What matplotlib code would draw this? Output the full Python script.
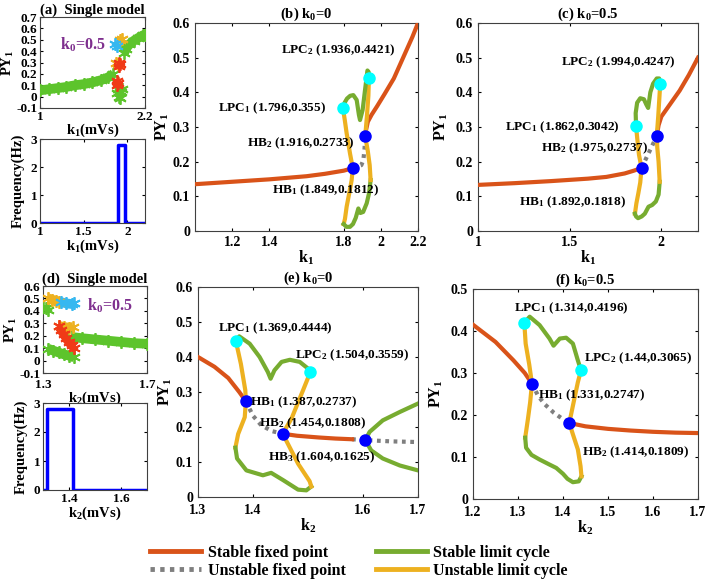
import matplotlib
matplotlib.use('Agg')
import matplotlib.pyplot as plt
from matplotlib.lines import Line2D

plt.rcParams['font.family'] = 'Liberation Serif'
plt.rcParams['font.weight'] = 'bold'
plt.rcParams['axes.labelweight'] = 'bold'
plt.rcParams['axes.titleweight'] = 'bold'
plt.rcParams['mathtext.fontset'] = 'custom'
plt.rcParams['mathtext.rm'] = 'Liberation Serif:bold'
plt.rcParams['mathtext.it'] = 'Liberation Serif:bold'
plt.rcParams['mathtext.bf'] = 'Liberation Serif:bold'
plt.rcParams['mathtext.default'] = 'rm'
plt.rcParams['xtick.direction'] = 'in'
plt.rcParams['ytick.direction'] = 'in'
plt.rcParams['xtick.top'] = True
plt.rcParams['ytick.right'] = True
plt.rcParams['xtick.major.size'] = 2.5
plt.rcParams['ytick.major.size'] = 2.5
plt.rcParams['axes.edgecolor'] = '#404040'
plt.rcParams['axes.linewidth'] = 0.8

RED = '#D95319'
GREEN = '#77AC30'
ORANGE = '#EDB120'
GRAY = '#7F7F7F'
CYAN = '#00FFFF'
BLUE = '#0000FF'
PURPLE = '#7E2F8E'
S_GREEN = '#5DC42C'
S_RED = '#F03A17'
S_ORANGE = '#EDB120'
S_CYAN = '#36B8F0'

# ---------- (a) single model, k1 scan ----------
a_band_k = [1.0, 1.1, 1.2, 1.3, 1.4, 1.5, 1.6, 1.7, 1.78, 1.84]
a_band_y = [0.055, 0.065, 0.075, 0.085, 0.10, 0.11, 0.125, 0.145, 0.17, 0.2]
a_lowgreen_k = [1.88, 1.89, 1.91, 1.93, 1.90, 1.94, 1.92]
a_lowgreen_y = [0.03, 0.065, 0.05, 0.04, 0.0, 0.07, -0.01]
a_red_k = [1.88, 1.895, 1.885, 1.905, 1.915, 1.90]
a_red_y = [0.10, 0.12, 0.14, 0.27, 0.29, 0.30]
a_orange_k = [1.87, 1.89, 1.92, 1.94]
a_orange_y = [0.30, 0.29, 0.50, 0.51]
a_cyan_k = [1.86, 1.88]
a_cyan_y = [0.46, 0.445]
a_upgreen_k = [1.96, 1.98, 2.02, 2.07, 2.12, 2.18, 2.2]
a_upgreen_y = [0.38, 0.42, 0.46, 0.49, 0.515, 0.54, 0.545]
a_freq_k = [1.0, 1.892, 1.892, 1.975, 1.975, 2.2]
a_freq_hz = [0, 0, 2.8, 2.8, 0, 0]

# ---------- (d) single model, k2 scan ----------
d_orange_top_k = [1.32, 1.335, 1.35, 1.36]
d_orange_top_y = [0.50, 0.49, 0.48, 0.475]
d_cyan_k = [1.37, 1.39, 1.41, 1.42]
d_cyan_y = [0.47, 0.46, 0.455, 0.46]
d_green_left_k = [1.30, 1.31, 1.32]
d_green_left_y = [0.43, 0.42, 0.41]
d_orange_mid_k = [1.36, 1.38, 1.40, 1.415]
d_orange_mid_y = [0.28, 0.27, 0.265, 0.27]
d_red_k = [1.36, 1.37, 1.38, 1.39, 1.40, 1.41, 1.42]
d_red_y = [0.28, 0.25, 0.215, 0.18, 0.15, 0.125, 0.105]
d_green_low_k = [1.32, 1.34, 1.36, 1.38, 1.40, 1.42]
d_green_low_y = [0.095, 0.08, 0.065, 0.05, 0.04, 0.025]
d_band_k = [1.41, 1.45, 1.5, 1.55, 1.6, 1.65, 1.7]
d_band_y = [0.19, 0.18, 0.17, 0.16, 0.15, 0.14, 0.135]
d_freq_k = [1.3, 1.314, 1.314, 1.414, 1.414, 1.7]
d_freq_hz = [0, 0, 2.8, 2.8, 0, 0]

# ---------- (b) k0=0, k1 ----------
b_sfp_lo_k = [1.0, 1.2, 1.4, 1.6, 1.7, 1.8, 1.849]
b_sfp_lo_y = [0.135, 0.142, 0.149, 0.158, 0.165, 0.174, 0.1812]
b_sfp_hi_k = [1.916, 1.92, 1.93, 1.95, 1.98, 2.02, 2.07, 2.12, 2.17, 2.2]
b_sfp_hi_y = [0.2733, 0.29, 0.315, 0.335, 0.36, 0.395, 0.44, 0.5, 0.56, 0.6]
b_ufp_k = [1.849, 1.895, 1.906, 1.912, 1.916]
b_ufp_y = [0.1812, 0.19, 0.205, 0.235, 0.2733]
b_ulc1_k = [1.796, 1.806, 1.816, 1.834, 1.849, 1.843, 1.83, 1.816, 1.807, 1.80]
b_ulc1_y = [0.355, 0.32, 0.282, 0.224, 0.1812, 0.147, 0.109, 0.07, 0.035, 0.02]
b_slc1_k = [1.80, 1.815, 1.834, 1.85, 1.865, 1.879, 1.89, 1.905, 1.924, 1.937, 1.945]
b_slc1_y = [0.02, 0.012, 0.012, 0.02, 0.038, 0.065, 0.052, 0.055, 0.08, 0.11, 0.147]
b_ulc2_k = [1.945, 1.94, 1.93, 1.916, 1.925, 1.933, 1.936]
b_ulc2_y = [0.147, 0.19, 0.23, 0.2733, 0.33, 0.39, 0.4421]
b_slc2_k = [1.936, 1.935, 1.928, 1.915, 1.902, 1.888, 1.882, 1.87, 1.852, 1.835, 1.818, 1.805, 1.796]
b_slc2_y = [0.4421, 0.458, 0.463, 0.407, 0.349, 0.32, 0.335, 0.378, 0.392, 0.39, 0.382, 0.37, 0.355]
b_hb = [('HB', 1, 1.849, 0.1812), ('HB', 2, 1.916, 0.2733)]
b_lpc = [('LPC', 1, 1.796, 0.355), ('LPC', 2, 1.936, 0.4421)]

# ---------- (c) k0=0.5, k1 ----------
c_sfp_lo_k = [1.0, 1.2, 1.4, 1.6, 1.7, 1.8, 1.85, 1.892]
c_sfp_lo_y = [0.133, 0.138, 0.144, 0.151, 0.156, 0.166, 0.174, 0.1818]
c_sfp_hi_k = [1.975, 1.985, 2.0, 2.04, 2.1, 2.15, 2.2]
c_sfp_hi_y = [0.2737, 0.305, 0.33, 0.36, 0.405, 0.45, 0.5]
c_ufp_k = [1.892, 1.975]
c_ufp_y = [0.1818, 0.2737]
c_ulc1_k = [1.862, 1.868, 1.878, 1.892, 1.885, 1.875, 1.864, 1.856]
c_ulc1_y = [0.3042, 0.27, 0.22, 0.1818, 0.14, 0.11, 0.08, 0.05]
c_slc1_k = [1.856, 1.862, 1.873, 1.893, 1.91, 1.922, 1.93, 1.95, 1.97, 1.985, 1.991]
c_slc1_y = [0.05, 0.042, 0.037, 0.042, 0.05, 0.062, 0.07, 0.075, 0.085, 0.105, 0.142]
c_ulc2_k = [1.991, 1.985, 1.978, 1.975, 1.983, 1.99, 1.994]
c_ulc2_y = [0.142, 0.2, 0.24, 0.2737, 0.33, 0.39, 0.4247]
c_slc2_k = [1.994, 1.988, 1.975, 1.955, 1.94, 1.928, 1.918, 1.905, 1.885, 1.868, 1.86, 1.862]
c_slc2_y = [0.4247, 0.44, 0.44, 0.425, 0.40, 0.355, 0.365, 0.38, 0.383, 0.37, 0.34, 0.3042]
c_hb = [('HB', 1, 1.892, 0.1818), ('HB', 2, 1.975, 0.2737)]
c_lpc = [('LPC', 1, 1.862, 0.3042), ('LPC', 2, 1.994, 0.4247)]

# ---------- (e) k0=0, k2 ----------
e_sfp1_k = [1.3, 1.33, 1.355, 1.375, 1.387]
e_sfp1_y = [0.40, 0.372, 0.34, 0.30, 0.2737]
e_ufp1_k = [1.387, 1.40, 1.415, 1.435, 1.454]
e_ufp1_y = [0.2737, 0.232, 0.205, 0.188, 0.1808]
e_sfp2_k = [1.454, 1.48, 1.52, 1.55, 1.58]
e_sfp2_y = [0.1808, 0.175, 0.17, 0.167, 0.165]
e_ufp2_k = [1.58, 1.604, 1.65, 1.7]
e_ufp2_y = [0.165, 0.1625, 0.159, 0.157]
e_slc3_up_k = [1.604, 1.612, 1.636, 1.667, 1.7]
e_slc3_up_y = [0.1625, 0.186, 0.219, 0.243, 0.267]
e_slc3_lo_k = [1.604, 1.615, 1.636, 1.667, 1.7]
e_slc3_lo_y = [0.1625, 0.133, 0.11, 0.09, 0.076]
e_ulc1_k = [1.369, 1.378, 1.386, 1.387, 1.385, 1.373, 1.368]
e_ulc1_y = [0.4444, 0.38, 0.305, 0.2737, 0.228, 0.18, 0.141]
e_slc1_k = [1.368, 1.371, 1.388, 1.418, 1.433, 1.455, 1.482, 1.497, 1.506]
e_slc1_y = [0.141, 0.11, 0.076, 0.062, 0.069, 0.048, 0.021, 0.019, 0.03]
e_ulc2_k = [1.506, 1.503, 1.482, 1.454, 1.47, 1.491, 1.504]
e_ulc2_y = [0.03, 0.045, 0.095, 0.1808, 0.224, 0.305, 0.3559]
e_slc2_k = [1.504, 1.50, 1.485, 1.467, 1.452, 1.439, 1.432, 1.427, 1.412, 1.394, 1.375, 1.369]
e_slc2_y = [0.3559, 0.367, 0.386, 0.392, 0.386, 0.362, 0.338, 0.357, 0.40, 0.438, 0.459, 0.4444]
e_hb = [('HB', 1, 1.387, 0.2737), ('HB', 2, 1.454, 0.1808), ('HB', 3, 1.604, 0.1625)]
e_lpc = [('LPC', 1, 1.369, 0.4444), ('LPC', 2, 1.504, 0.3559)]

# ---------- (f) k0=0.5, k2 ----------
f_sfp1_k = [1.2, 1.25, 1.29, 1.315, 1.331]
f_sfp1_y = [0.415, 0.374, 0.33, 0.30, 0.2747]
f_ufp_k = [1.331, 1.345, 1.36, 1.38, 1.40, 1.414]
f_ufp_y = [0.2747, 0.245, 0.225, 0.205, 0.19, 0.1809]
f_sfp2_k = [1.414, 1.45, 1.5, 1.55, 1.6, 1.65, 1.7]
f_sfp2_y = [0.1809, 0.173, 0.167, 0.163, 0.16, 0.158, 0.157]
f_ulc1_k = [1.314, 1.317, 1.325, 1.331, 1.327, 1.322, 1.316]
f_ulc1_y = [0.4196, 0.37, 0.32, 0.2747, 0.23, 0.19, 0.146]
f_slc1_k = [1.316, 1.318, 1.33, 1.348, 1.37, 1.385, 1.40, 1.41, 1.422, 1.435, 1.441]
f_slc1_y = [0.146, 0.122, 0.105, 0.094, 0.082, 0.074, 0.06, 0.048, 0.04, 0.042, 0.054]
f_ulc2_k = [1.441, 1.439, 1.433, 1.422, 1.414, 1.422, 1.433, 1.44]
f_ulc2_y = [0.054, 0.078, 0.118, 0.154, 0.1809, 0.222, 0.278, 0.3065]
f_slc2_k = [1.44, 1.433, 1.422, 1.407, 1.393, 1.379, 1.37, 1.348, 1.326, 1.314]
f_slc2_y = [0.3065, 0.33, 0.37, 0.384, 0.382, 0.365, 0.382, 0.414, 0.434, 0.4196]
f_hb = [('HB', 1, 1.331, 0.2747), ('HB', 2, 1.414, 0.1809)]
f_lpc = [('LPC', 1, 1.314, 0.4196), ('LPC', 2, 1.44, 0.3065)]

legend_labels = ['Stable fixed point', 'Unstable fixed point',
                 'Stable limit cycle', 'Unstable limit cycle']


def px_axes(fig, l, r, t, b):
    W, H = 708.0, 584.0
    return fig.add_axes([l / W, 1 - b / H, (r - l) / W, (b - t) / H])


def line(ax, k, y, c, dotted=False):
    if dotted:
        ax.plot(k, y, color=c, lw=3, ls=(0, (0.9, 1.1)), zorder=2)
    else:
        ax.plot(k, y, color=c, lw=3, solid_joinstyle='round', zorder=3)


def stars(ax, k, y, c, band=False):
    if band:
        ax.plot(k, y, color=c, lw=7, solid_capstyle='butt', zorder=2)
    ax.plot(k, y, ls='none', marker=(6, 2, 0), ms=9, mew=1.3, color=c, zorder=3)


def points(ax, hb, lpc, label_pos, fs=9.5):
    for name, i, k, y in lpc:
        ax.plot(k, y, 'o', ms=8, color=CYAN, zorder=5)
    for name, i, k, y in hb:
        ax.plot(k, y, 'o', ms=8, color=BLUE, zorder=5)
    for (name, i, k, y), (tx, ty) in zip(hb + lpc, label_pos):
        ax.text(tx, ty, name + '$_{' + str(i) + '}$ (' + str(k) + ',' + str(y) + ')',
                ha='center', va='center', fontsize=fs, zorder=6)


fig = plt.figure(figsize=(7.08, 5.84), dpi=100)

# (a) top
ax = px_axes(fig, 40, 145, 17, 108)
stars(ax, a_band_k, a_band_y, S_GREEN, band=True)
stars(ax, a_lowgreen_k, a_lowgreen_y, S_GREEN)
stars(ax, a_upgreen_k, a_upgreen_y, S_GREEN, band=True)
stars(ax, a_orange_k, a_orange_y, S_ORANGE)
stars(ax, a_red_k, a_red_y, S_RED)
stars(ax, a_cyan_k, a_cyan_y, S_CYAN)
ax.text(1.49, 0.455, 'k$_0$=0.5', color=PURPLE, fontsize=11.5, ha='center', va='center')
ax.set_xlim(1, 2.2)
ax.set_ylim(-0.1, 0.7)
ax.set_xticks([1, 2.2])
ax.set_xticklabels(['1', '2.2'])
ax.set_yticks([-0.1, 0, 0.1, 0.2, 0.3, 0.4, 0.5, 0.6, 0.7])
ax.set_yticklabels(['-0.1', '0', '0.1', '0.2', '0.3', '0.4', '0.5', '0.6', '0.7'])
ax.tick_params(labelsize=9.5, pad=2)
ax.set_xlabel('k$_1$(mVs)', fontsize=10.5, labelpad=-1)
ax.set_ylabel('PY$_1$', fontsize=10.5, labelpad=0)
ax.set_title('(a)  Single model', fontsize=10.5, pad=1)

# (a) bottom
ax = px_axes(fig, 40, 145, 139, 223)
ax.plot(a_freq_k, a_freq_hz, color=BLUE, lw=2.5)
ax.set_xlim(1, 2.2)
ax.set_ylim(0, 3)
ax.set_xticks([1, 1.5, 2])
ax.set_xticklabels(['1', '1.5', '2'])
ax.set_yticks([0, 1, 2, 3])
ax.tick_params(labelsize=9.5, pad=2)
ax.set_xlabel('k$_1$(mVs)', fontsize=10.5, labelpad=0)
ax.set_ylabel('Frequency(Hz)', fontsize=10.5, labelpad=4)

# (d) top
ax = px_axes(fig, 43, 147, 286, 373)
stars(ax, d_band_k, d_band_y, S_GREEN, band=True)
stars(ax, d_green_low_k, d_green_low_y, S_GREEN, band=True)
stars(ax, d_green_left_k, d_green_left_y, S_GREEN)
stars(ax, d_orange_top_k, d_orange_top_y, S_ORANGE, band=True)
stars(ax, d_cyan_k, d_cyan_y, S_CYAN, band=True)
stars(ax, d_orange_mid_k, d_orange_mid_y, S_ORANGE, band=True)
stars(ax, d_red_k, d_red_y, S_RED, band=True)
ax.text(1.558, 0.443, 'k$_0$=0.5', color=PURPLE, fontsize=11.5, ha='center', va='center')
ax.set_xlim(1.3, 1.7)
ax.set_ylim(-0.1, 0.6)
ax.set_xticks([1.3, 1.7])
ax.set_xticklabels(['1.3', '1.7'])
ax.set_yticks([-0.1, 0, 0.1, 0.2, 0.3, 0.4, 0.5, 0.6])
ax.set_yticklabels(['-0.1', '0', '0.1', '0.2', '0.3', '0.4', '0.5', '0.6'])
ax.tick_params(labelsize=9.5, pad=2)
ax.tick_params(axis='x', pad=4)
ax.set_xlabel('k$_2$(mVs)', fontsize=10.5, labelpad=-1)
ax.set_ylabel('PY$_1$', fontsize=10.5, labelpad=0)
ax.set_title('(d)  Single model', fontsize=10.5, pad=1)

# (d) bottom
ax = px_axes(fig, 43, 147, 403, 490)
ax.plot(d_freq_k, d_freq_hz, color=BLUE, lw=2.5)
ax.set_xlim(1.3, 1.7)
ax.set_ylim(0, 3)
ax.set_xticks([1.4, 1.6])
ax.set_xticklabels(['1.4', '1.6'])
ax.set_yticks([0, 1, 2, 3])
ax.tick_params(labelsize=9.5, pad=2)
ax.set_xlabel('k$_2$(mVs)', fontsize=10.5, labelpad=0)
ax.set_ylabel('Frequency(Hz)', fontsize=10.5, labelpad=4)

# (b)
ax = px_axes(fig, 195, 418, 23, 231)
line(ax, b_ufp_k, b_ufp_y, GRAY, dotted=True)
line(ax, b_sfp_lo_k, b_sfp_lo_y, RED)
line(ax, b_sfp_hi_k, b_sfp_hi_y, RED)
line(ax, b_ulc1_k, b_ulc1_y, ORANGE)
line(ax, b_slc1_k, b_slc1_y, GREEN)
line(ax, b_ulc2_k, b_ulc2_y, ORANGE)
line(ax, b_slc2_k, b_slc2_y, GREEN)
points(ax, b_hb, b_lpc, [(1.705, 0.118), (1.57, 0.254), (1.417, 0.355), (1.77, 0.522)])
ax.set_xlim(1, 2.2)
ax.set_ylim(0, 0.6)
ax.set_xticks([1.2, 1.4, 1.8, 2, 2.2])
ax.set_xticklabels(['1.2', '1.4', '1.8', '2', '2.2'])
ax.set_yticks([0, 0.1, 0.2, 0.3, 0.4, 0.5, 0.6])
ax.set_yticklabels(['0', '0.1', '0.2', '0.3', '0.4', '0.5', '0.6'])
ax.tick_params(labelsize=10)
ax.set_xlabel('k$_1$', fontsize=11.5, labelpad=0)
ax.set_ylabel('PY$_1$', fontsize=11.5, labelpad=1)
ax.set_title('(b) k$_0$=0', fontsize=10.5, pad=4)

# (c)
ax = px_axes(fig, 478, 698, 23, 231)
line(ax, c_ufp_k, c_ufp_y, GRAY, dotted=True)
line(ax, c_sfp_lo_k, c_sfp_lo_y, RED)
line(ax, c_sfp_hi_k, c_sfp_hi_y, RED)
line(ax, c_ulc1_k, c_ulc1_y, ORANGE)
line(ax, c_slc1_k, c_slc1_y, GREEN)
line(ax, c_ulc2_k, c_ulc2_y, ORANGE)
line(ax, c_slc2_k, c_slc2_y, GREEN)
points(ax, c_hb, c_lpc, [(1.513, 0.084), (1.638, 0.239), (1.458, 0.30), (1.764, 0.487)])
ax.set_xlim(1, 2.2)
ax.set_ylim(0, 0.6)
ax.set_xticks([1, 1.5, 2])
ax.set_xticklabels(['1', '1.5', '2'])
ax.set_yticks([0, 0.1, 0.2, 0.3, 0.4, 0.5, 0.6])
ax.set_yticklabels(['0', '0.1', '0.2', '0.3', '0.4', '0.5', '0.6'])
ax.tick_params(labelsize=10)
ax.set_xlabel('k$_1$', fontsize=11.5, labelpad=0)
ax.set_ylabel('PY$_1$', fontsize=11.5)
ax.set_title('(c) k$_0$=0.5', fontsize=10.5, pad=4)

# (e)
ax = px_axes(fig, 198, 418, 287, 497)
line(ax, e_ufp1_k, e_ufp1_y, GRAY, dotted=True)
line(ax, e_ufp2_k, e_ufp2_y, GRAY, dotted=True)
line(ax, e_sfp1_k, e_sfp1_y, RED)
line(ax, e_sfp2_k, e_sfp2_y, RED)
line(ax, e_slc3_up_k, e_slc3_up_y, GREEN)
line(ax, e_slc3_lo_k, e_slc3_lo_y, GREEN)
line(ax, e_ulc1_k, e_ulc1_y, ORANGE)
line(ax, e_slc1_k, e_slc1_y, GREEN)
line(ax, e_ulc2_k, e_ulc2_y, ORANGE)
line(ax, e_slc2_k, e_slc2_y, GREEN)
points(ax, e_hb, e_lpc, [(1.493, 0.271), (1.509, 0.211), (1.524, 0.114), (1.44, 0.483), (1.58, 0.406)])
ax.set_xlim(1.3, 1.7)
ax.set_ylim(0, 0.6)
ax.set_xticks([1.3, 1.4, 1.6, 1.7])
ax.set_xticklabels(['1.3', '1.4', '1.6', '1.7'])
ax.set_yticks([0, 0.1, 0.2, 0.3, 0.4, 0.5, 0.6])
ax.set_yticklabels(['0', '0.1', '0.2', '0.3', '0.4', '0.5', '0.6'])
ax.tick_params(labelsize=10)
ax.tick_params(axis='x', pad=5)
ax.set_xlabel('k$_2$', fontsize=11.5, labelpad=0)
ax.set_ylabel('PY$_1$', fontsize=11.5, labelpad=1)
ax.set_title('(e) k$_0$=0', fontsize=10.5, pad=4)

# (f)
ax = px_axes(fig, 473, 698, 289, 499)
line(ax, f_ufp_k, f_ufp_y, GRAY, dotted=True)
line(ax, f_sfp1_k, f_sfp1_y, RED)
line(ax, f_sfp2_k, f_sfp2_y, RED)
line(ax, f_ulc1_k, f_ulc1_y, ORANGE)
line(ax, f_slc1_k, f_slc1_y, GREEN)
line(ax, f_ulc2_k, f_ulc2_y, ORANGE)
line(ax, f_slc2_k, f_slc2_y, GREEN)
points(ax, f_hb, f_lpc, [(1.464, 0.248), (1.562, 0.112), (1.418, 0.455), (1.567, 0.336)])
ax.set_xlim(1.2, 1.7)
ax.set_ylim(0, 0.5)
ax.set_xticks([1.2, 1.3, 1.4, 1.5, 1.6, 1.7])
ax.set_xticklabels(['1.2', '1.3', '1.4', '1.5', '1.6', '1.7'])
ax.set_yticks([0, 0.1, 0.2, 0.3, 0.4, 0.5])
ax.set_yticklabels(['0', '0.1', '0.2', '0.3', '0.4', '0.5'])
ax.tick_params(labelsize=10)
ax.tick_params(axis='x', pad=5)
ax.set_xlabel('k$_2$', fontsize=11.5, labelpad=0)
ax.set_ylabel('PY$_1$', fontsize=11.5)
ax.set_title('(f) k$_0$=0.5', fontsize=10.5, pad=4)

handles = [Line2D([], [], color=RED, lw=3.5),
           Line2D([], [], color=GRAY, lw=3.5, ls=(0, (0.9, 1.1))),
           Line2D([], [], color=GREEN, lw=3.5),
           Line2D([], [], color=ORANGE, lw=3.5)]
fig.legend(handles, legend_labels, ncol=2, loc='center', bbox_to_anchor=(0.507, 0.038),
           frameon=False, fontsize=11.5, handlelength=3.2, handletextpad=0.4,
           columnspacing=1.9, labelspacing=0.15, borderpad=0)

fig.savefig('out.png', dpi=100)
